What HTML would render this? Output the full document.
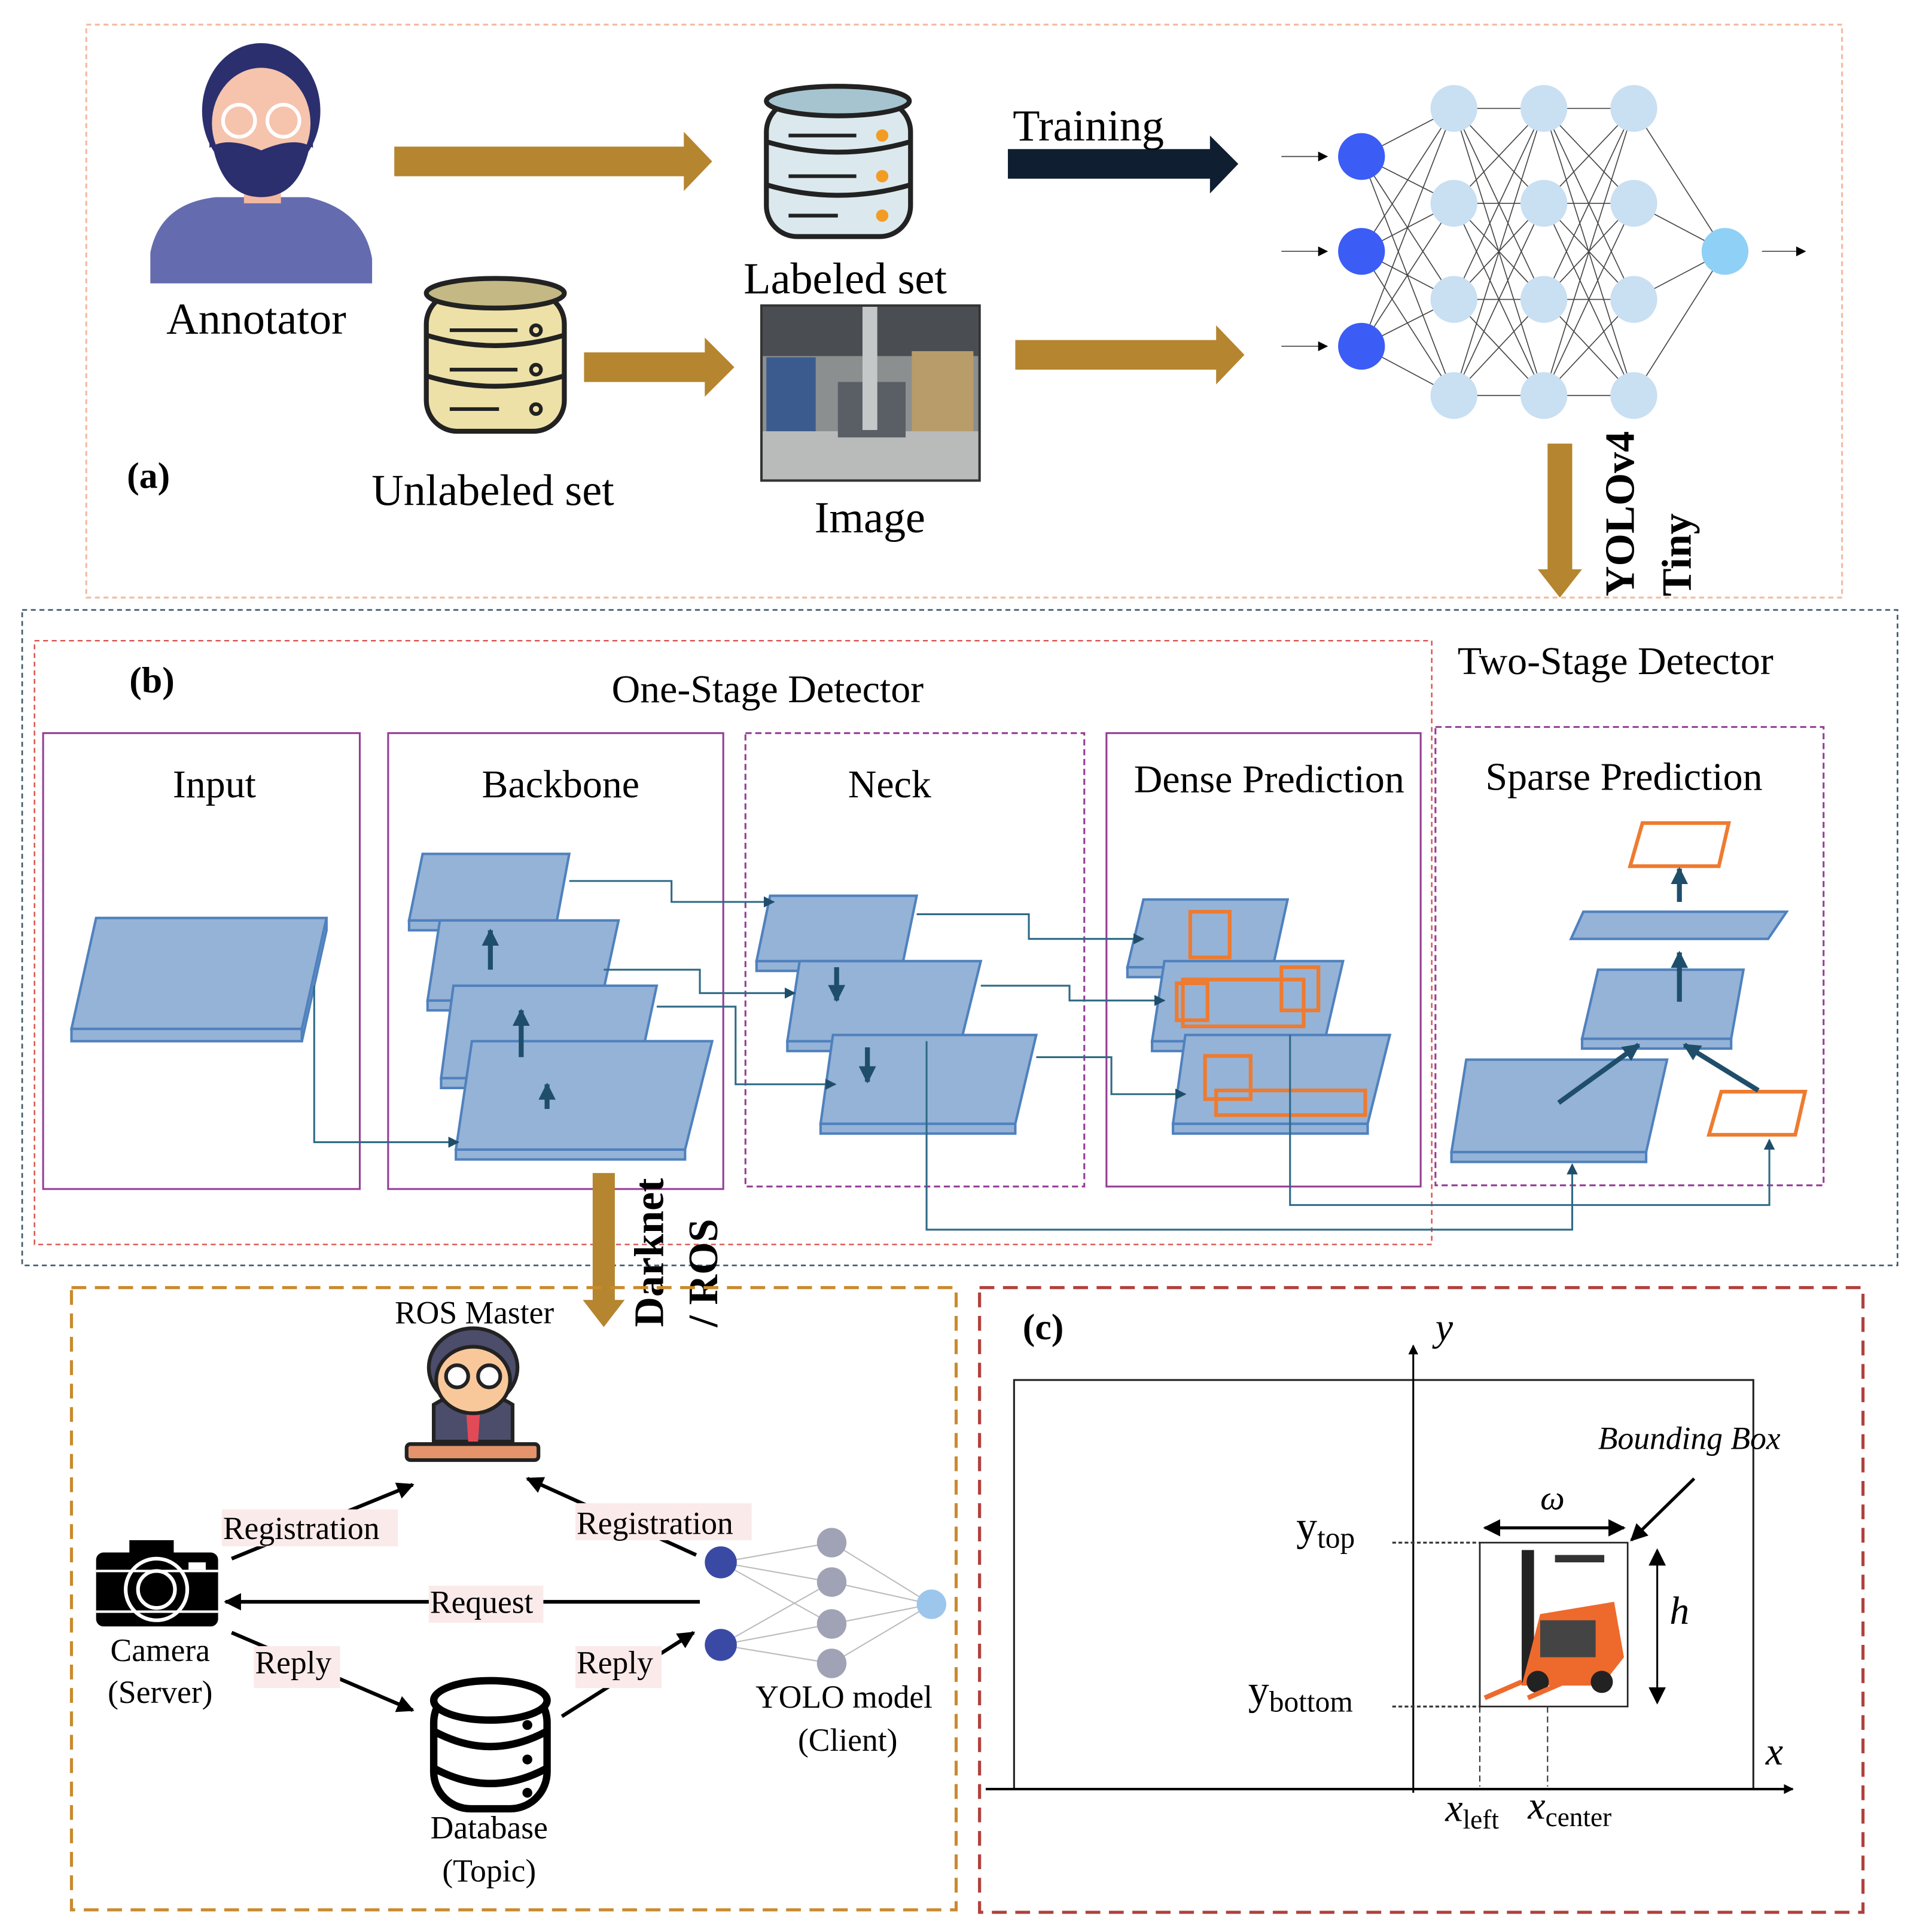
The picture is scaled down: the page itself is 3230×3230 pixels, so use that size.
<!DOCTYPE html>
<html><head><meta charset="utf-8"><style>html,body{margin:0;padding:0;background:#fff}svg{display:block}text{font-family:"Liberation Serif",serif}</style></head><body>
<svg width="3230" height="3230" viewBox="0 0 1568 1568" xmlns="http://www.w3.org/2000/svg">
<defs>
<marker id="ah" viewBox="0 0 10 10" refX="9" refY="5" markerWidth="9" markerHeight="9" markerUnits="userSpaceOnUse" orient="auto"><path d="M0,0L10,5L0,10z" fill="#1f4e6b"/></marker>
<marker id="ahb" viewBox="0 0 10 10" refX="9" refY="5" markerWidth="14" markerHeight="14" markerUnits="userSpaceOnUse" orient="auto"><path d="M0,0L10,5L0,10z" fill="#1f4e6b"/></marker>
<marker id="bk" viewBox="0 0 10 10" refX="9" refY="5" markerWidth="8" markerHeight="8" markerUnits="userSpaceOnUse" orient="auto"><path d="M0,0L10,5L0,10z" fill="#000"/></marker>
<marker id="bk2" viewBox="0 0 10 10" refX="9" refY="5" markerWidth="14" markerHeight="14" markerUnits="userSpaceOnUse" orient="auto-start-reverse"><path d="M0,0L10,5L0,10z" fill="#000"/></marker>
</defs>
<rect x="70" y="20" width="1425" height="465" fill="none" stroke="#f4b9a0" stroke-width="1.5" stroke-dasharray="4,3"/>
<path d="M122,230 L122,205 Q130,165 175,160 L250,160 Q295,170 302,210 L302,230Z" fill="#646caf"/>
<rect x="198" y="140" width="30" height="25" fill="#f3b8a0"/>
<ellipse cx="212" cy="90" rx="48" ry="55" fill="#2b2f6e"/>
<ellipse cx="212" cy="100" rx="40" ry="45" fill="#f6c3ad"/>
<path d="M170,100 Q175,160 212,160 Q249,160 254,100 L254,120 Q240,110 212,122 Q184,110 170,120Z" fill="#2b2f6e"/>
<circle cx="194" cy="98" r="13" fill="none" stroke="#fff" stroke-width="3"/><circle cx="230" cy="98" r="13" fill="none" stroke="#fff" stroke-width="3"/>
<text x="208" y="271" font-size="36" text-anchor="middle">Annotator</text>
<path d="M320,119 L555,119 L555,107 L578,131 L555,155 L555,143 L320,143Z" fill="#b5852f"/>
<path d="M474,286 L572,286 L572,274 L596,298 L572,322 L572,310 L474,310Z" fill="#b5852f"/>
<path d="M824,276 L987,276 L987,264 L1010,288 L987,312 L987,300 L824,300Z" fill="#b5852f"/>
<path d="M818,121 L982,121 L982,110 L1005,133 L982,157 L982,145 L818,145Z" fill="#0f1e30"/>
<text x="822" y="114" font-size="36">Training</text>
<g stroke="#222" stroke-width="4">
<rect x="622" y="82" width="117" height="110" rx="25" fill="#dbe9ee"/>
<ellipse cx="680" cy="82" rx="58" ry="12" fill="#a5c4cf"/>
<path d="M622,115 Q680,132 739,115 M622,150 Q680,167 739,150" fill="none"/>
<path d="M640,110 L695,110 M640,143 L695,143 M640,175 L680,175" stroke-width="3"/>
</g>
<circle cx="716" cy="110" r="5" fill="#f39c23"/><circle cx="716" cy="143" r="5" fill="#f39c23"/><circle cx="716" cy="175" r="5" fill="#f39c23"/>
<text x="686" y="238" font-size="36" text-anchor="middle">Labeled set</text>
<g stroke="#222" stroke-width="4">
<rect x="346" y="238" width="112" height="112" rx="25" fill="#eee1a8"/>
<ellipse cx="402" cy="238" rx="56" ry="12" fill="#c4b884"/>
<path d="M346,272 Q402,289 458,272 M346,305 Q402,322 458,305" fill="none"/>
<path d="M365,268 L420,268 M365,300 L420,300 M365,332 L405,332" stroke-width="3"/>
<circle cx="435" cy="268" r="4" fill="none" stroke-width="3"/><circle cx="435" cy="300" r="4" fill="none" stroke-width="3"/><circle cx="435" cy="332" r="4" fill="none" stroke-width="3"/>
</g>
<text x="400" y="410" font-size="36" text-anchor="middle">Unlabeled set</text>
<rect x="618" y="248" width="177" height="142" fill="#8c8f90" stroke="#333" stroke-width="2"/>
<rect x="619" y="249" width="175" height="40" fill="#4a4e52"/>
<rect x="619" y="350" width="175" height="39" fill="#b9bbbb"/>
<rect x="622" y="290" width="40" height="60" fill="#3b5b8f"/><rect x="740" y="285" width="50" height="65" fill="#b89c6a"/>
<rect x="680" y="310" width="55" height="45" fill="#5a5f66"/><rect x="700" y="249" width="12" height="100" fill="#c5c8c9"/>
<text x="706" y="432" font-size="36" text-anchor="middle">Image</text>
<text x="103" y="396" font-size="30" font-weight="bold">(a)</text>
<g stroke="#444" stroke-width="0.8">
<path d="M1105,127L1180,88M1105,127L1180,165M1105,127L1180,243M1105,127L1180,321M1105,204L1180,88M1105,204L1180,165M1105,204L1180,243M1105,204L1180,321M1105,281L1180,88M1105,281L1180,165M1105,281L1180,243M1105,281L1180,321"/>
<path d="M1180,88L1253,88M1180,88L1253,165M1180,88L1253,243M1180,88L1253,321M1180,165L1253,88M1180,165L1253,165M1180,165L1253,243M1180,165L1253,321M1180,243L1253,88M1180,243L1253,165M1180,243L1253,243M1180,243L1253,321M1180,321L1253,88M1180,321L1253,165M1180,321L1253,243M1180,321L1253,321"/>
<path d="M1253,88L1326,88M1253,88L1326,165M1253,88L1326,243M1253,88L1326,321M1253,165L1326,88M1253,165L1326,165M1253,165L1326,243M1253,165L1326,321M1253,243L1326,88M1253,243L1326,165M1253,243L1326,243M1253,243L1326,321M1253,321L1326,88M1253,321L1326,165M1253,321L1326,243M1253,321L1326,321"/>
<path d="M1326,88L1400,204M1326,165L1400,204M1326,243L1400,204M1326,321L1400,204"/>
<path d="M1040,127L1077,127" marker-end="url(#bk)"/><path d="M1040,204L1077,204" marker-end="url(#bk)"/><path d="M1040,281L1077,281" marker-end="url(#bk)"/><path d="M1430,204L1465,204" marker-end="url(#bk)"/>
</g>
<g fill="#c9dff2"><circle cx="1180" cy="88" r="19"/><circle cx="1180" cy="165" r="19"/><circle cx="1180" cy="243" r="19"/><circle cx="1180" cy="321" r="19"/><circle cx="1253" cy="88" r="19"/><circle cx="1253" cy="165" r="19"/><circle cx="1253" cy="243" r="19"/><circle cx="1253" cy="321" r="19"/><circle cx="1326" cy="88" r="19"/><circle cx="1326" cy="165" r="19"/><circle cx="1326" cy="243" r="19"/><circle cx="1326" cy="321" r="19"/></g>
<g fill="#3b5cf5"><circle cx="1105" cy="127" r="19"/><circle cx="1105" cy="204" r="19"/><circle cx="1105" cy="281" r="19"/></g>
<circle cx="1400" cy="204" r="19" fill="#8fd0f6"/>
<path d="M1256,360 L1276,360 L1276,462 L1284,462 L1266,485 L1248,462 L1256,462Z" fill="#b5852f"/>
<text transform="translate(1326,484) rotate(-90)" font-size="34" font-weight="bold">YOLOv4</text>
<text transform="translate(1372,484) rotate(-90)" font-size="34" font-weight="bold">Tiny</text>
<rect x="18" y="495" width="1522" height="532" fill="none" stroke="#3d5a6e" stroke-width="1.3" stroke-dasharray="4,3"/>
<rect x="28" y="520" width="1134" height="490" fill="none" stroke="#d9534f" stroke-width="1.2" stroke-dasharray="4,3"/>
<text x="105" y="562" font-size="30" font-weight="bold">(b)</text>
<text x="623" y="570" font-size="32" text-anchor="middle">One-Stage Detector</text>
<text x="1183" y="547" font-size="32">Two-Stage Detector</text>
<g fill="none" stroke="#953d96" stroke-width="1.5">
<rect x="35" y="595" width="257" height="370"/><rect x="315" y="595" width="272" height="370"/><rect x="898" y="595" width="255" height="368"/>
<rect x="605" y="595" width="275" height="368" stroke-dasharray="5,3"/><rect x="1165" y="590" width="315" height="372" stroke-dasharray="5,3"/>
</g>
<g font-size="32" text-anchor="middle"><text x="174" y="647">Input</text><text x="455" y="647">Backbone</text><text x="722" y="647">Neck</text><text x="1030" y="643">Dense Prediction</text><text x="1318" y="641">Sparse Prediction</text></g>
<g fill="#95b3d7" stroke="#4f81bd" stroke-width="2">
<polygon points="58,835 245,835 245,845 58,845"/><polygon points="78,745 265,745 245,835 58,835"/><polygon points="245,835 265,745 265,755 245,845"/>
<polygon points="332,747 452,747 452,755 332,755"/><polygon points="343,693 462,693 452,747 332,747"/>
<polygon points="347,812 488,812 488,820 347,820"/><polygon points="357,747 502,747 488,812 347,812"/>
<polygon points="358,875 517,875 517,883 358,883"/><polygon points="368,800 533,800 517,875 358,875"/>
<polygon points="370,933 556,933 556,941 370,941"/><polygon points="383,845 578,845 556,933 370,933"/>
<polygon points="614,780 733,780 733,788 614,788"/><polygon points="625,727 744,727 733,780 614,780"/>
<polygon points="639,845 780,845 780,853 639,853"/><polygon points="649,780 796,780 780,845 639,845"/>
<polygon points="666,912 824,912 824,920 666,920"/><polygon points="676,840 841,840 824,912 666,912"/>
<polygon points="915,785 1033,785 1033,793 915,793"/><polygon points="928,730 1045,730 1033,785 915,785"/>
<polygon points="935,845 1075,845 1075,853 935,853"/><polygon points="945,780 1090,780 1075,845 935,845"/>
<polygon points="952,912 1110,912 1110,920 952,920"/><polygon points="962,840 1128,840 1110,912 952,912"/>
<polygon points="1178,935 1336,935 1336,943 1178,943"/><polygon points="1190,860 1353,860 1336,935 1178,935"/>
<polygon points="1284,843 1405,843 1405,851 1284,851"/><polygon points="1297,787 1415,787 1405,843 1284,843"/>
<polygon points="1285,740 1450,740 1435,762 1275,762"/>
</g>
<g fill="none" stroke="#ee7b30" stroke-width="3">
<rect x="966" y="740" width="32" height="37"/><rect x="955" y="798" width="25" height="30"/><rect x="1040" y="785" width="30" height="35"/>
<rect x="960" y="795" width="98" height="38"/><rect x="978" y="857" width="37" height="35"/><rect x="987" y="885" width="121" height="20"/>
<polygon points="1333,668 1403,668 1395,703 1323,703"/><polygon points="1397,886 1465,886 1457,921 1387,921"/>
</g>
<g fill="none" stroke="#1f4e6b" stroke-width="4" marker-end="url(#ahb)">
<path d="M398,787L398,755"/><path d="M423,858L423,820"/><path d="M444,900L444,880"/>
<path d="M679,785L679,812"/><path d="M704,850L704,878"/>
<path d="M1363,732L1363,705"/><path d="M1363,813L1363,773"/><path d="M1265,895L1330,848"/><path d="M1427,885L1367,848"/>
</g>
<g fill="none" stroke="#2e6a85" stroke-width="1.5" marker-end="url(#ah)">
<path d="M255,800L255,927L372,927"/><path d="M462,715L545,715L545,732L628,732"/><path d="M490,787L568,787L568,806L645,806"/><path d="M533,817L597,817L597,880L678,880"/>
<path d="M744,742L835,742L835,762L928,762"/><path d="M796,800L868,800L868,812L945,812"/><path d="M841,858L902,858L902,888L962,888"/>
<path d="M752,845L752,998L1276,998L1276,945"/><path d="M1047,840L1047,978L1436,978L1436,925"/>
</g>
<path d="M481,952 L499,952 L499,1055 L507,1055 L490,1077 L473,1055 L481,1055Z" fill="#b5852f"/>
<text transform="translate(538,1077) rotate(-90)" font-size="34" font-weight="bold">Darknet</text>
<text transform="translate(582,1077) rotate(-90)" font-size="34" font-weight="bold">/ ROS</text>
<rect x="58" y="1045" width="718" height="505" fill="none" stroke="#c98a2e" stroke-width="2.5" stroke-dasharray="12,7"/>
<rect x="795" y="1045" width="717" height="507" fill="none" stroke="#b0403c" stroke-width="2.5" stroke-dasharray="12,7"/>
<text x="385" y="1074" font-size="26" text-anchor="middle">ROS Master</text>
<path d="M352,1170 L352,1140 Q384,1120 416,1140 L416,1170Z" fill="#4b4d6a" stroke="#222" stroke-width="3"/>
<path d="M378,1140 L390,1140 L388,1170 L380,1170Z" fill="#e24a57"/>
<ellipse cx="384" cy="1110" rx="36" ry="32" fill="#4b4d6a" stroke="#222" stroke-width="3"/>
<ellipse cx="384" cy="1120" rx="30" ry="27" fill="#f8c89a" stroke="#222" stroke-width="3"/>
<circle cx="371" cy="1117" r="9" fill="#fff" stroke="#222" stroke-width="3"/><circle cx="397" cy="1117" r="9" fill="#fff" stroke="#222" stroke-width="3"/>
<rect x="330" y="1172" width="107" height="13" rx="3" fill="#e4936a" stroke="#222" stroke-width="3"/>
<rect x="78" y="1260" width="99" height="60" rx="6" fill="#000"/><rect x="105" y="1250" width="36" height="14" fill="#000"/>
<circle cx="127" cy="1290" r="25" fill="none" stroke="#fff" stroke-width="3"/><circle cx="127" cy="1290" r="15" fill="none" stroke="#fff" stroke-width="3"/>
<rect x="153" y="1268" width="14" height="6" fill="#fff"/><path d="M78,1275L177,1275M78,1308L177,1308" stroke="#fff" stroke-width="2"/>
<g font-size="26" text-anchor="middle"><text x="130" y="1348">Camera</text><text x="130" y="1382">(Server)</text><text x="397" y="1492">Database</text><text x="397" y="1527">(Topic)</text><text x="685" y="1386">YOLO model</text><text x="688" y="1421">(Client)</text></g>
<g fill="#fff" stroke="#000" stroke-width="6">
<rect x="352" y="1368" width="92" height="100" rx="30"/><ellipse cx="398" cy="1380" rx="46" ry="16"/>
<path d="M352,1405 Q398,1430 444,1405 M352,1435 Q398,1460 444,1435" fill="none"/>
</g>
<circle cx="428" cy="1400" r="4"/><circle cx="428" cy="1428" r="4"/><circle cx="428" cy="1455" r="4"/>
<g stroke="#bbb" stroke-width="1"><path d="M585,1268L675,1252M585,1268L675,1284M585,1268L675,1318M585,1335L675,1284M585,1335L675,1318M585,1335L675,1350M675,1252L756,1302M675,1284L756,1302M675,1318L756,1302M675,1350L756,1302"/></g>
<g fill="#a0a3b6"><circle cx="675" cy="1252" r="12"/><circle cx="675" cy="1284" r="12"/><circle cx="675" cy="1318" r="12"/><circle cx="675" cy="1350" r="12"/></g>
<circle cx="585" cy="1268" r="13" fill="#3a4aa4"/><circle cx="585" cy="1335" r="13" fill="#3a4aa4"/><circle cx="756" cy="1302" r="12" fill="#9cc6ec"/>
<g stroke="#000" stroke-width="3" fill="none">
<path d="M188,1265L335,1205" marker-end="url(#bk2)"/><path d="M565,1262L428,1200" marker-end="url(#bk2)"/>
<path d="M568,1300L183,1300" marker-end="url(#bk2)"/>
<path d="M188,1325L335,1388" marker-end="url(#bk2)"/><path d="M456,1393L563,1325" marker-end="url(#bk2)"/>
</g>
<g fill="#fbeaea"><rect x="180" y="1225" width="143" height="30"/><rect x="467" y="1220" width="143" height="30"/><rect x="348" y="1287" width="93" height="30"/><rect x="206" y="1336" width="70" height="34"/><rect x="467" y="1336" width="70" height="34"/></g>
<g font-size="26"><text x="181" y="1249">Registration</text><text x="468" y="1245">Registration</text><text x="349" y="1309">Request</text><text x="207" y="1358">Reply</text><text x="468" y="1358">Reply</text></g>
<text x="830" y="1087" font-size="30" font-weight="bold">(c)</text>
<rect x="823" y="1120" width="600" height="332" fill="none" stroke="#222" stroke-width="1.5"/>
<path d="M1147,1455L1147,1092" stroke="#000" stroke-width="1.5" marker-end="url(#bk)"/>
<path d="M800,1452L1455,1452" stroke="#000" stroke-width="2" marker-end="url(#bk)"/>
<text x="1165" y="1088" font-size="32" font-style="italic">y</text><text x="1433" y="1432" font-size="32" font-style="italic">x</text>
<rect x="1201" y="1252" width="120" height="133" fill="#fff" stroke="#222" stroke-width="1.3"/>
<rect x="1235" y="1258" width="10" height="110" fill="#222"/><rect x="1262" y="1262" width="40" height="6" fill="#333"/>
<path d="M1250,1310 L1310,1300 L1318,1345 L1300,1368 L1235,1368Z" fill="#ee6a2c"/><rect x="1250" y="1315" width="45" height="30" fill="#444"/>
<circle cx="1248" cy="1365" r="9" fill="#222"/><circle cx="1300" cy="1365" r="9" fill="#222"/>
<path d="M1205,1378L1235,1365M1240,1378L1270,1365" stroke="#ee6a2c" stroke-width="4"/>
<text x="1297" y="1176" font-size="26" font-style="italic">Bounding Box</text>
<path d="M1375,1200L1324,1250" stroke="#000" stroke-width="2.5" marker-end="url(#bk2)"/>
<path d="M1205,1240L1318,1240" stroke="#000" stroke-width="2.5" marker-end="url(#bk2)" marker-start="url(#bk2)"/>
<text x="1260" y="1225" font-size="28" font-style="italic" text-anchor="middle">ω</text>
<path d="M1345,1258L1345,1382" stroke="#000" stroke-width="1.5" marker-end="url(#bk2)" marker-start="url(#bk2)"/>
<text x="1355" y="1318" font-size="32" font-style="italic">h</text>
<path d="M1130,1252L1201,1252M1130,1385L1201,1385" stroke="#333" stroke-width="1.5" stroke-dasharray="3,2"/>
<path d="M1201,1385L1201,1450M1256,1385L1256,1450" stroke="#333" stroke-width="1" stroke-dasharray="5,3"/>
<text x="1052" y="1250" font-size="34">y<tspan font-size="24" dy="6">top</tspan></text>
<text x="1013" y="1383" font-size="34">y<tspan font-size="24" dy="6">bottom</tspan></text>
<text x="1173" y="1478" font-size="32" font-style="italic">x<tspan font-size="22" font-style="normal" dy="6">left</tspan></text>
<text x="1240" y="1476" font-size="32" font-style="italic">x<tspan font-size="22" font-style="normal" dy="6">center</tspan></text>
</svg>
</body></html>
